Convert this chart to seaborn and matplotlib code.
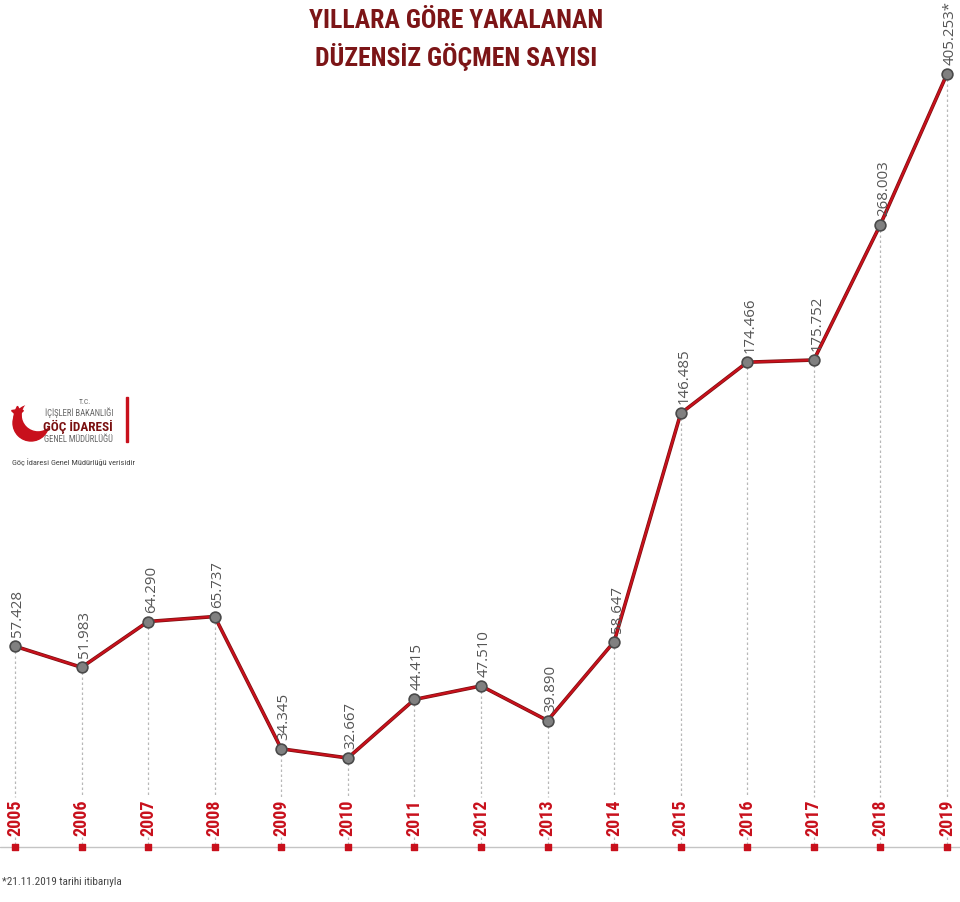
import numpy as np
import pandas as pd
import matplotlib
matplotlib.use("Agg")
import matplotlib.pyplot as plt
import matplotlib.patheffects as pe
from matplotlib.patches import Circle, Rectangle
from matplotlib import font_manager as fm
import seaborn as sns

# ---------------- data ----------------
years = [2005, 2006, 2007, 2008, 2009, 2010, 2011, 2012, 2013, 2014,
         2015, 2016, 2017, 2018, 2019]
migrants = [57428, 51983, 64290, 65737, 34345, 32667, 44415, 47510, 39890,
            58647, 146485, 174466, 175752, 268003, 405253]
value_labels = ["57.428", "51.983", "64.290", "65.737", "34.345", "32.667",
                "44.415", "47.510", "39.890", "58.647", "146.485", "174.466",
                "175.752", "268.003", "405.253*"]
year_labels = [str(y) for y in years]
title_text = "YILLARA GÖRE YAKALANAN\nDÜZENSİZ GÖÇMEN SAYISI"
footnote = "*21.11.2019 tarihi itibarıyla"
source_note = "Göç İdaresi Genel Müdürlüğü verisidir"

df = pd.DataFrame({"year": years, "migrants": migrants})

# ---------------- style ----------------
sns.set_theme(style="white")
plt.rcParams["font.family"] = ["Open Sans", "DejaVu Sans"]


def find_font(bold):
    files = [f.fname for f in fm.fontManager.ttflist]
    keys = ["LiberationSansNarrow", "RobotoCondensed", "DejaVuSansCondensed",
            "NotoSansCondensed", "OpenSansCondensed", "Narrow", "Condensed"]
    for k in keys:
        for fn in sorted(files):
            base = fn.split("/")[-1]
            if k.lower() in base.lower():
                isb = "bold" in base.lower()
                if isb == bold and "italic" not in base.lower() and "oblique" not in base.lower():
                    return fm.FontProperties(fname=fn)
    return fm.FontProperties(family="DejaVu Sans",
                             weight="bold" if bold else "normal")


cond_b = find_font(True)
cond_r = find_font(False)

W, H = 960, 903
fig = plt.figure(figsize=(W / 100, H / 100), dpi=100)
ax = fig.add_axes([0, 0, 1, 1])
ax.set_facecolor("none")

# power scale (infographic is drawn on a compressed scale)
P = 0.3
ax.set_yscale("function", functions=(lambda v: np.sign(v) * np.abs(v) ** P,
                                     lambda t: np.sign(t) * np.abs(t) ** (1 / P)))

fmin, fmax = min(migrants) ** P, max(migrants) ** P
px_min, px_max = H - 759, H - 75
k = (fmax - fmin) / (px_max - px_min)
f_bot = fmin - px_min * k
f_top = fmax + (H - px_max) * k
ax.set_ylim(f_bot ** (1 / P), f_top ** (1 / P))
step = (947 - 15) / (len(years) - 1)
ax.set_xlim(years[0] - 15 / step, years[-1] + (W - 947) / step)

red = "#c8101c"
dark_red = "#7a1010"
title_col = "#7c1517"

trans = ax.get_xaxis_transform()

lab_top = 1 - 798 / H
lab_bot = 1 - 838 / H
base_y = 1 - 848 / H
for yr, v in zip(years, migrants):
    ypt = ax.transData.transform((yr, v))[1] / H
    ax.plot([yr, yr], [ypt, lab_top], transform=trans, color="#b8b8b8",
            lw=0.9, ls=(0, (2, 2)), zorder=1)
    ax.plot([yr, yr], [lab_bot, base_y], transform=trans, color="#b8b8b8",
            lw=0.9, ls=(0, (2, 2)), zorder=1)

sns.lineplot(data=df, x="year", y="migrants", ax=ax, color=red, lw=1.6,
             zorder=3, legend=False,
             path_effects=[pe.Stroke(linewidth=2.6, foreground=dark_red), pe.Normal()])
ax.scatter(years, migrants, s=60, color="#808080", edgecolor="#4a4a4a",
           linewidth=1.2, zorder=4)
ax.axis("off")

for yr, v, lab in zip(years, migrants, value_labels):
    ax.annotate(lab, (yr, v), xytext=(3, 10), textcoords="offset pixels",
                rotation=90, ha="center", va="bottom", fontsize=10.8,
                color="#555555", family=["Open Sans", "DejaVu Sans"], zorder=5)

ax.plot([0, 1], [base_y, base_y], transform=ax.transAxes, color="#c4c4c4",
        lw=1.0, zorder=1)
ax.scatter(years, [base_y] * len(years), transform=trans, marker="s", s=14,
           color=red, zorder=3)
for yr, lab in zip(years, year_labels):
    ax.text(yr, 1 - 818 / H, lab, transform=trans, rotation=90, ha="center",
            va="center", fontproperties=cond_b, fontsize=13, color=red,
            zorder=5)

fig.text(456 / W, 1 - 40 / H, title_text, ha="center", va="center",
         fontproperties=cond_b, fontsize=18.5, color=title_col, linespacing=1.45)

fig.text(2 / W, 1 - 882 / H, footnote, ha="left", va="center",
         fontproperties=cond_r, fontsize=8.0, color="#444444")

# ---------------- logo (pixel-coordinate overlay) ----------------
lax = fig.add_axes([0, 0, 1, 1], zorder=10)
lax.set_xlim(0, W)
lax.set_ylim(H, 0)
lax.axis("off")
lax.add_patch(Circle((31, 424), 18, color=red))
lax.add_patch(Circle((38, 416), 15.5, color="white"))
lax.plot([17], [413], marker=(5, 1, 0), markersize=9, color=red)
lax.add_patch(Rectangle((126, 398), 2.2, 45, color=red))
lax.text(85, 402, "T.C.", ha="center", va="center", fontproperties=cond_r,
         fontsize=5.5, color="#666666")
lax.text(113, 413, "İÇİŞLERİ BAKANLIĞI", ha="right", va="center",
         fontproperties=cond_r, fontsize=6.2, color="#666666")
lax.text(113, 427, "GÖÇ İDARESİ", ha="right", va="center",
         fontproperties=cond_b, fontsize=9.5, color=dark_red)
lax.text(113, 440, "GENEL MÜDÜRLÜĞÜ", ha="right", va="center",
         fontproperties=cond_r, fontsize=6.2, color="#666666")
lax.text(12, 462, source_note, ha="left", va="center",
         fontproperties=cond_r, fontsize=6.0, color="#444444")

fig.savefig("out.png", dpi=100)
